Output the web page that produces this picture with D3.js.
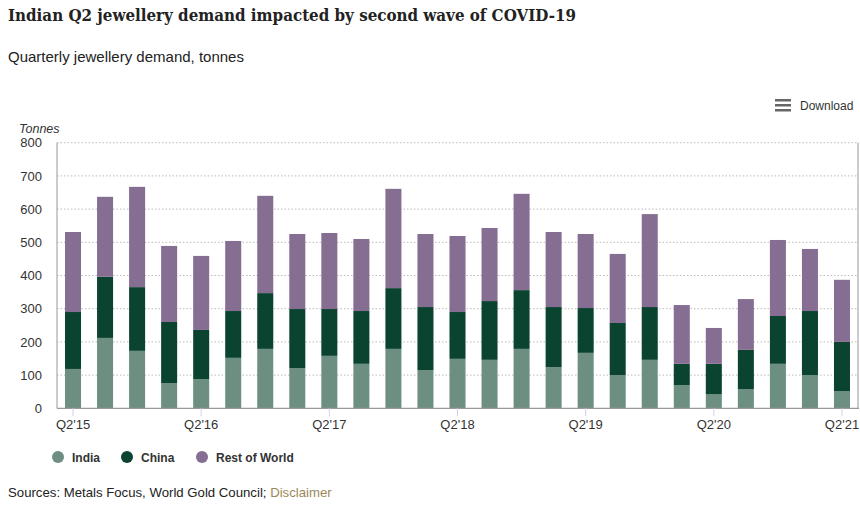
<!DOCTYPE html>
<html><head><meta charset="utf-8">
<script src="https://cdn.jsdelivr.net/npm/d3@7"></script>
<style>
body{margin:0;background:#fff;}
svg{display:block;font-family:"Liberation Sans",Arial,sans-serif;}
</style></head>
<body><svg id="c" width="860" height="505"></svg>
<script>
const quarters = ["Q2'15","Q3'15","Q4'15","Q1'16","Q2'16","Q3'16","Q4'16","Q1'17","Q2'17","Q3'17","Q4'17","Q1'18","Q2'18","Q3'18","Q4'18","Q1'19","Q2'19","Q3'19","Q4'19","Q1'20","Q2'20","Q3'20","Q4'20","Q1'21","Q2'21"];
const india = [118.5,212,173,76,88,152,179,121,158,134,179,115,149,146,179,124,167,100,146,70,43,58,134,100,52];
const china = [171.5,184,192,184,148,141,168,178,141,159,183,190,141,177,177,181,135,157,159,64,91,118,144,193,148];
const restOfWorld = [241,241,302,229,223,211,293,226,229,217,299,220,229,220,290,226,223,208,280,177,108,153,229,187,187];
const seriesNames = ["India","China","Rest of World"];
const colors = ["#6d8f82","#0b4331","#866e92"];
const yTicks = [0,100,200,300,400,500,600,700,800];
const xLabelQuarters = ["Q2'15","Q2'16","Q2'17","Q2'18","Q2'19","Q2'20","Q2'21"];

const svg = d3.select("#c");
const L=57, R=858, T=142.7, B=408.3;

svg.append("text").attr("x",8).attr("y",21).attr("font-family","'DejaVu Serif Condensed','DejaVu Serif',serif").attr("font-stretch","condensed").attr("font-weight","bold").attr("font-size",16.8).attr("fill","#222")
  .attr("textLength",568).attr("lengthAdjust","spacingAndGlyphs")
  .text("Indian Q2 jewellery demand impacted by second wave of COVID-19");
svg.append("text").attr("x",8).attr("y",62).attr("font-size",15).attr("fill","#222").text("Quarterly jewellery demand, tonnes");

// download
const dl = svg.append("g");
[0,5,10].forEach(o=>dl.append("rect").attr("x",775).attr("y",99+o).attr("width",16).attr("height",2.5).attr("fill","#666"));
dl.append("text").attr("x",800).attr("y",110).attr("font-size",12).attr("fill","#333").text("Download");

const x = d3.scaleBand().domain(quarters).range([L,R]).paddingInner(0.5).paddingOuter(0.25);
const y = d3.scaleLinear().domain([0,800]).range([B,T]);

// grid
svg.append("g").selectAll("line").data(yTicks.filter(d=>d>0)).join("line")
  .attr("x1",L).attr("x2",R).attr("y1",d=>y(d)).attr("y2",d=>y(d))
  .attr("stroke","#bbb").attr("stroke-dasharray","1.5,2").attr("stroke-width",1);

const yAxis = svg.append("g").attr("transform",`translate(${L},0)`).call(d3.axisLeft(y).tickValues(yTicks).tickSize(0).tickPadding(15));
yAxis.select(".domain").remove();
yAxis.selectAll("text").attr("font-size",13).attr("fill","#333").attr("font-family","'Liberation Sans',Arial,sans-serif");

svg.append("text").attr("x",19).attr("y",133).attr("font-size",12.5).attr("font-style","italic").attr("fill","#333").text("Tonnes");

const data = quarters.map((q,i)=>({q, India:india[i], China:china[i], "Rest of World":restOfWorld[i]}));
const stack = d3.stack().keys(seriesNames)(data);
svg.append("g").selectAll("g").data(stack).join("g").attr("fill",(d,i)=>colors[i])
  .selectAll("rect").data(d=>d).join("rect")
  .attr("x",d=>x(d.data.q)).attr("width",x.bandwidth())
  .attr("y",d=>y(d[1])).attr("height",d=>y(d[0])-y(d[1]));

// axes lines
svg.append("line").attr("x1",L).attr("x2",L).attr("y1",T).attr("y2",B).attr("stroke","#999");
svg.append("line").attr("x1",R).attr("x2",R).attr("y1",T).attr("y2",B).attr("stroke","#999");
svg.append("line").attr("x1",L).attr("x2",R+1).attr("y1",B).attr("y2",B).attr("stroke","#999").attr("stroke-width",1.2);

const xAxis = svg.append("g").attr("transform",`translate(0,${B})`)
  .call(d3.axisBottom(x).tickValues(xLabelQuarters).tickSize(8).tickPadding(3));
xAxis.select(".domain").remove();
xAxis.selectAll("line").attr("stroke","#ccd6eb");
xAxis.selectAll("text").attr("font-size",13).attr("fill","#333").attr("font-family","'Liberation Sans',Arial,sans-serif");

// legend
const lx=[58,127,202];
const lg = svg.append("g").selectAll("g").data(seriesNames).join("g").attr("transform",(d,i)=>`translate(${lx[i]},457)`);
lg.append("circle").attr("r",6).attr("fill",(d,i)=>colors[i]);
lg.append("text").attr("x",14).attr("y",4.5).attr("font-size",12).attr("font-weight","bold").attr("fill","#333").text(d=>d);

const src = svg.append("text").attr("x",8).attr("y",497).attr("font-size",13.2).attr("fill","#222");
src.append("tspan").text("Sources: Metals Focus, World Gold Council; ");
src.append("tspan").attr("fill","#9c8758").text("Disclaimer");
</script></body></html>
